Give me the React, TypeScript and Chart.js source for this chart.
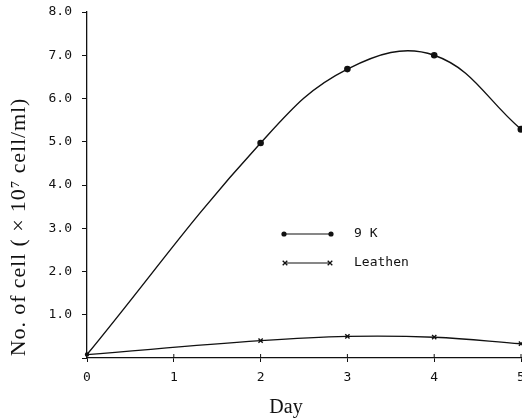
import React, { useEffect, useRef } from "react";
import { Chart, registerables } from "chart.js";

Chart.register(...registerables);

const days = [0, 2, 3, 4, 5];
const series9K = [0.08, 4.97, 6.68, 7.0, 5.29];
const seriesLeathen = [0.08, 0.4, 0.5, 0.48, 0.33];
const xTicks = [0, 1, 2, 3, 4, 5];
const yTicks = [0, 1, 2, 3, 4, 5, 6, 7, 8];
const legendLabels = ["9 K", "Leathen"];

const MONO = "'DejaVu Sans Mono', 'Liberation Mono', monospace";
const SERIF = "'Liberation Serif', 'DejaVu Serif', serif";

const overlayPlugin = {
  id: "overlay",
  afterDraw(chart: any) {
    const ctx = chart.ctx;
    const xs = chart.scales.x;
    const area = chart.chartArea;
    ctx.save();
    // x tick marks crossing axis (upper part)
    ctx.strokeStyle = "#111";
    ctx.lineWidth = 1;
    xTicks.forEach((t) => {
      if (t === 0) return;
      const px = xs.getPixelForValue(t);
      ctx.beginPath();
      ctx.moveTo(px, area.bottom - 4);
      ctx.lineTo(px, area.bottom);
      ctx.stroke();
    });
    // legend
    const ds = chart.data.datasets;
    const rows = [
      { y: 234, x0: 284, x1: 331 },
      { y: 263, x0: 285, x1: 330 },
    ];
    rows.forEach((r, i) => {
      ctx.strokeStyle = "#111";
      ctx.lineWidth = 1.2;
      ctx.beginPath();
      ctx.moveTo(r.x0, r.y);
      ctx.lineTo(r.x1, r.y);
      ctx.stroke();
      [r.x0, r.x1].forEach((px) => {
        if (ds[i].pointStyle === "circle") {
          ctx.fillStyle = "#111";
          ctx.beginPath();
          ctx.arc(px, r.y, 2.6, 0, Math.PI * 2);
          ctx.fill();
        } else {
          ctx.lineWidth = 1.3;
          ctx.beginPath();
          ctx.moveTo(px - 2.3, r.y - 2.3);
          ctx.lineTo(px + 2.3, r.y + 2.3);
          ctx.moveTo(px + 2.3, r.y - 2.3);
          ctx.lineTo(px - 2.3, r.y + 2.3);
          ctx.stroke();
        }
      });
      ctx.fillStyle = "#111";
      ctx.font = "13px " + MONO;
      ctx.textBaseline = "middle";
      ctx.textAlign = "left";
      ctx.fillText(legendLabels[i], 354, r.y);
    });
    // axis titles
    ctx.fillStyle = "#111";
    ctx.font = "20px " + SERIF;
    ctx.textAlign = "center";
    ctx.textBaseline = "middle";
    ctx.fillText("Day", 286, 408);
    ctx.save();
    ctx.translate(19, 227);
    ctx.rotate(-Math.PI / 2);
    ctx.font = "22px " + SERIF;
    try {
      (ctx as any).letterSpacing = "0.9px";
    } catch (e) {}
    ctx.fillText("No. of cell ( \u00d7 10\u2077 cell/ml)", 0, 0);
    ctx.restore();
    ctx.restore();
  },
};

export default function App() {
  const ref = useRef<HTMLCanvasElement | null>(null);
  useEffect(() => {
    document.body.style.margin = "0";
    const canvas = ref.current!;
    const chart = new Chart(canvas, {
      type: "line",
      data: {
        datasets: [
          {
            label: legendLabels[0],
            data: days.map((d, i) => ({ x: d, y: series9K[i] })),
            borderColor: "#111",
            backgroundColor: "#111",
            borderWidth: 1.4,
            pointStyle: "circle",
            pointRadius: [1.5, 2.6, 2.6, 2.6, 2.8],
            tension: 0.4,
            clip: false,
          },
          {
            label: legendLabels[1],
            data: days.map((d, i) => ({ x: d, y: seriesLeathen[i] })),
            borderColor: "#111",
            backgroundColor: "#111",
            borderWidth: 1.3,
            pointStyle: "crossRot",
            pointRadius: [0, 3, 3, 3, 3],
            pointBorderWidth: 1.4,
            tension: 0.4,
            clip: false,
          },
        ],
      },
      options: {
        animation: false,
        responsive: false,
        maintainAspectRatio: false,
        layout: { autoPadding: false, padding: { top: 12, right: 1, left: 0, bottom: 0 } },
        plugins: { legend: { display: false }, tooltip: { enabled: false } },
        scales: {
          x: {
            type: "linear",
            min: 0,
            max: 5,
            afterBuildTicks: (s: any) => {
              s.ticks = xTicks.map((v) => ({ value: v }));
            },
            afterFit: (s: any) => {
              s.height = 61;
              s.paddingLeft = 0;
              s.paddingRight = 0;
            },
            grid: { drawOnChartArea: false, drawTicks: true, tickLength: 4, color: "#111" },
            border: { color: "#111", width: 1.3 },
            ticks: {
              color: "#111",
              font: { family: MONO, size: 13 },
              padding: 8,
              maxRotation: 0,
              autoSkip: false,
              callback: (v: any) => String(v),
            },
          },
          y: {
            type: "linear",
            min: 0,
            max: 8,
            afterBuildTicks: (s: any) => {
              s.ticks = yTicks.map((v) => ({ value: v }));
            },
            afterFit: (s: any) => {
              s.width = 87;
              s.paddingTop = 0;
              s.paddingBottom = 0;
            },
            grid: { drawOnChartArea: false, drawTicks: true, tickLength: 5, color: "#111" },
            border: { color: "#111", width: 1.3 },
            ticks: {
              color: "#111",
              font: { family: MONO, size: 13 },
              padding: 10,
              autoSkip: false,
              callback: (v: any) => (v === 0 ? "" : Number(v).toFixed(1)),
            },
          },
        },
      },
      plugins: [overlayPlugin],
    });
    return () => chart.destroy();
  }, []);
  return (
    <div style={{ position: "absolute", left: 0, top: 0, width: 522, height: 419, background: "#fff" }}>
      <canvas ref={ref} width={522} height={419} style={{ width: 522, height: 419 }} />
    </div>
  );
}
